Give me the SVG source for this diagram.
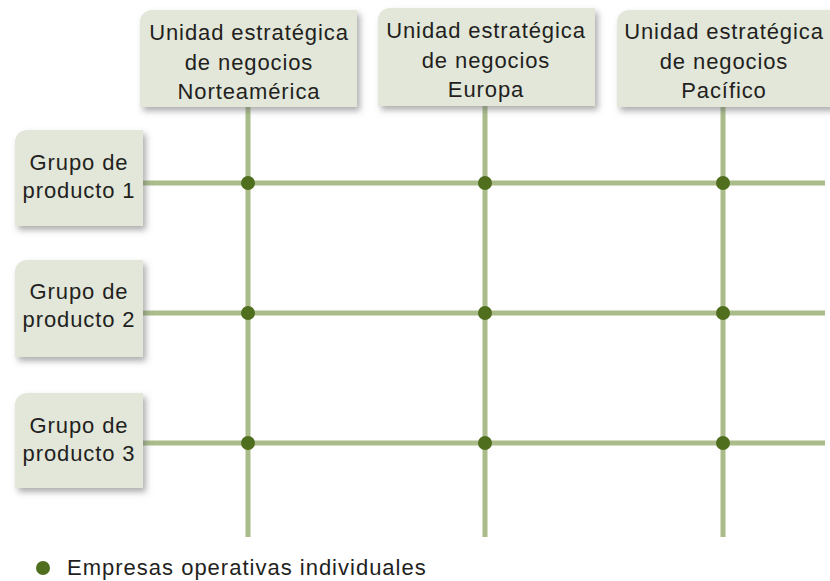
<svg xmlns="http://www.w3.org/2000/svg" width="830" height="581" viewBox="0 0 830 581">
<style>
.box{fill:#e2e7da;filter:url(#sh)}
.t{font-family:"Liberation Sans",Arial,sans-serif;font-size:22px;letter-spacing:0.9px;fill:#231f20;text-anchor:middle}
.ln{stroke:#a9bc8a;stroke-width:5;fill:none}
.dot{fill:#4f6e1e}
</style>
<defs>
<filter id="sh" x="-10%" y="-10%" width="130%" height="140%">
<feDropShadow dx="3" dy="4" stdDeviation="3" flood-color="#6a6a6a" flood-opacity="0.55"/>
</filter>
</defs>
<rect width="830" height="581" fill="#ffffff"/>
<g id="connectors">
<line class="ln" x1="248" y1="105" x2="248" y2="537"/>
<line class="ln" x1="485" y1="104" x2="485" y2="537"/>
<line class="ln" x1="723" y1="105" x2="723" y2="537"/>
<line class="ln" x1="141" y1="183" x2="825" y2="183"/>
<line class="ln" x1="141" y1="313" x2="825" y2="313"/>
<line class="ln" x1="141" y1="443" x2="825" y2="443"/>
</g>
<g id="sbu-na">
<path class="box" d="M152 10H357V107H140V22A12 12 0 0 1 152 10Z"/>
<text class="t" x="249" y="40">Unidad estratégica</text>
<text class="t" x="249" y="70">de negocios</text>
<text class="t" x="249" y="99">Norteamérica</text>
</g>
<g id="sbu-eu">
<path class="box" d="M390 8H595V106H378V20A12 12 0 0 1 390 8Z"/>
<text class="t" x="486" y="38">Unidad estratégica</text>
<text class="t" x="486" y="68">de negocios</text>
<text class="t" x="486" y="97">Europa</text>
</g>
<g id="sbu-pac">
<path class="box" d="M629 10H832V107H617V22A12 12 0 0 1 629 10Z"/>
<text class="t" x="724" y="39">Unidad estratégica</text>
<text class="t" x="724" y="69">de negocios</text>
<text class="t" x="724" y="98">Pacífico</text>
</g>
<g id="pg1">
<path class="box" d="M27 130H143V226H15V142A12 12 0 0 1 27 130Z"/>
<text class="t" x="79" y="170">Grupo de</text>
<text class="t" x="79" y="198">producto 1</text>
</g>
<g id="pg2">
<path class="box" d="M27 260H143V357H15V272A12 12 0 0 1 27 260Z"/>
<text class="t" x="79" y="299">Grupo de</text>
<text class="t" x="79" y="327">producto 2</text>
</g>
<g id="pg3">
<path class="box" d="M27 393H143V488H15V405A12 12 0 0 1 27 393Z"/>
<text class="t" x="79" y="433">Grupo de</text>
<text class="t" x="79" y="461">producto 3</text>
</g>
<g id="dots">
<circle class="dot" cx="248" cy="183" r="7"/>
<circle class="dot" cx="485" cy="183" r="7"/>
<circle class="dot" cx="723" cy="183" r="7"/>
<circle class="dot" cx="248" cy="313" r="7"/>
<circle class="dot" cx="485" cy="313" r="7"/>
<circle class="dot" cx="723" cy="313" r="7"/>
<circle class="dot" cx="248" cy="443" r="7"/>
<circle class="dot" cx="485" cy="443" r="7"/>
<circle class="dot" cx="723" cy="443" r="7"/>
</g>
<g id="legend">
<circle class="dot" cx="43" cy="568" r="7"/>
<text x="67" y="575" style="font-family:'Liberation Sans',Arial,sans-serif;font-size:22px;letter-spacing:1px;fill:#231f20">Empresas operativas individuales</text>
</g>
</svg>
